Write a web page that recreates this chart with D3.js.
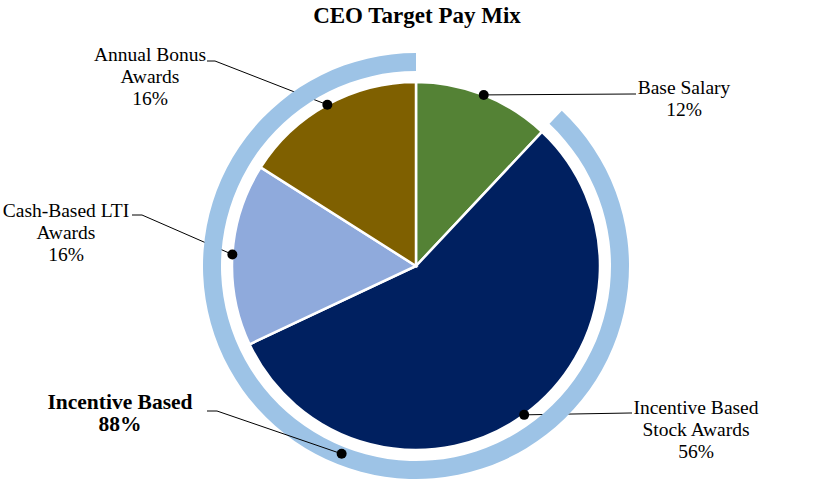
<!DOCTYPE html>
<html><head><meta charset="utf-8">
<script src="https://cdn.jsdelivr.net/npm/d3@7"></script>
<style>body{margin:0;background:#fff}text{font-family:"Liberation Serif","Times New Roman",serif;fill:#000}</style>
</head><body><svg id="c" width="839" height="499"></svg>
<script>
const categories = ["Base Salary", "Incentive Based Stock Awards", "Cash-Based LTI Awards", "Annual Bonus Awards"];
const values = [12, 56, 16, 16];
const colors = ["#548235", "#002060", "#8FAADC", "#7F6000"];
const ringLabel = "Incentive Based";
const ringValue = 88;
const labelLines = [["Base Salary", "12%"], ["Incentive Based", "Stock Awards", "56%"], ["Cash-Based LTI", "Awards", "16%"], ["Annual Bonus", "Awards", "16%"]];
const labelPos = [[684, 94, 636, 94, 633], [696, 414, 632, 413, 630], [66, 217, 132, 215, 142], [150, 61, 207, 61, 215]];

const svg = d3.select("#c");
const cx = 416, cy = 266, R = 184, rIn = 195, rOut = 213;
const g = svg.append("g").attr("transform", `translate(${cx},${cy})`);
svg.append("text").attr("x", 417).attr("y", 23).attr("text-anchor", "middle")
  .attr("font-size", 23).attr("font-weight", "bold").text("CEO Target Pay Mix");

const pie = d3.pie().sort(null)(values);
const arc = d3.arc().innerRadius(0).outerRadius(R);
const pt = (a, r) => [Math.sin(a) * r, -Math.cos(a) * r];

// leader lines for slices (drawn beneath the ring)
pie.forEach((d, i) => {
  const m = (d.startAngle + d.endAngle) / 2;
  const p = pt(m, R);
  const lp = labelPos[i];
  const pts = [[lp[2] - cx, lp[3] - cy], [lp[4] - cx, lp[3] - cy], p];
  g.append("path").attr("d", d3.line()(pts)).attr("fill", "none").attr("stroke", "#000").attr("stroke-width", 1);
});

g.selectAll("path.s").data(pie).join("path").attr("class", "s")
  .attr("d", arc).attr("fill", (d, i) => colors[i]).attr("stroke", "#fff").attr("stroke-width", 2.5);

// outer ring for incentive based
const total = d3.sum(values);
const ringStart = 2 * Math.PI * (1 - ringValue / total);
g.append("path").attr("d", d3.arc().innerRadius(rIn).outerRadius(rOut).startAngle(ringStart).endAngle(2 * Math.PI)())
  .attr("fill", "#9DC3E6");

// ring leader
const rm = (ringStart + 2 * Math.PI) / 2;
const rp = pt(rm, (rIn + rOut) / 2 - 2);
g.append("path").attr("d", d3.line()([[207 - cx, 411 - cy], [217 - cx, 411 - cy], rp]))
  .attr("fill", "none").attr("stroke", "#000").attr("stroke-width", 1);
g.append("circle").attr("cx", rp[0]).attr("cy", rp[1]).attr("r", 5).attr("fill", "#000");

pie.forEach((d, i) => {
  const m = (d.startAngle + d.endAngle) / 2;
  const p = pt(m, R);
  g.append("circle").attr("cx", p[0]).attr("cy", p[1]).attr("r", 5).attr("fill", "#000");
  const lp = labelPos[i];
  const t = svg.append("text").attr("text-anchor", "middle").attr("font-size", 19.5);
  labelLines[i].forEach((s, j) => t.append("tspan").attr("x", lp[0]).attr("y", lp[1] + j * 22).text(s));
});

const rt = svg.append("text").attr("text-anchor", "middle").attr("font-size", 21.5).attr("font-weight", "bold");
[ringLabel, ringValue + "%"].forEach((s, j) => rt.append("tspan").attr("x", 120).attr("y", 409 + j * 22).text(s));
</script></body></html>
